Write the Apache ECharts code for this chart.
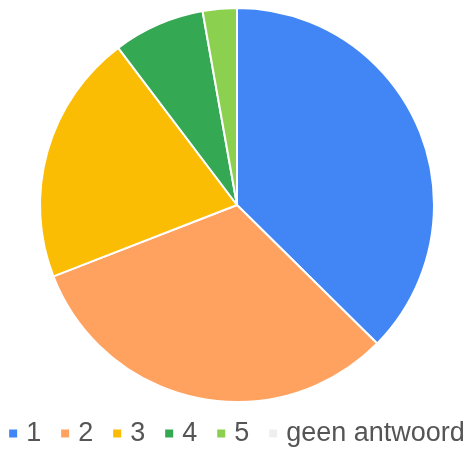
<!DOCTYPE html>
<html>
<head>
<meta charset="utf-8">
<script src="https://cdn.jsdelivr.net/npm/echarts@6/dist/echarts.min.js"></script>
<style>
  html, body { margin: 0; padding: 0; background: #fff; }
  #chart { width: 472px; height: 452px; }
</style>
</head>
<body>
<div id="chart"></div>
<script>
// Answer categories and their share of responses (%)
const categories = ['1', '2', '3', '4', '5', 'geen antwoord'];
const shares = [37.4, 31.7, 20.6, 7.5, 2.8, 0];
const colors = ['#4285F4', '#FFA25F', '#FBBC04', '#34A853', '#8BD04F', '#EEEEEE'];

const chart = echarts.init(document.getElementById('chart'));
chart.setOption({
  animation: false,
  color: colors,
  legend: {
    bottom: 0,
    left: 'center',
    icon: 'rect',
    itemWidth: 10,
    itemHeight: 10,
    itemGap: 18,
    textStyle: {
      fontFamily: 'Liberation Sans, Arial, sans-serif',
      fontSize: 27,
      color: '#555',
      padding: [0, 0, 0, 3]
    },
    data: categories
  },
  series: [{
    type: 'pie',
    center: [237, 205],
    radius: [0, 197],
    startAngle: 90,
    clockwise: true,
    label: { show: false },
    labelLine: { show: false },
    itemStyle: { borderColor: '#fff', borderWidth: 2 },
    emphasis: { disabled: true },
    data: categories.map((name, i) => ({ name, value: shares[i] }))
  }]
});
</script>
</body>
</html>
